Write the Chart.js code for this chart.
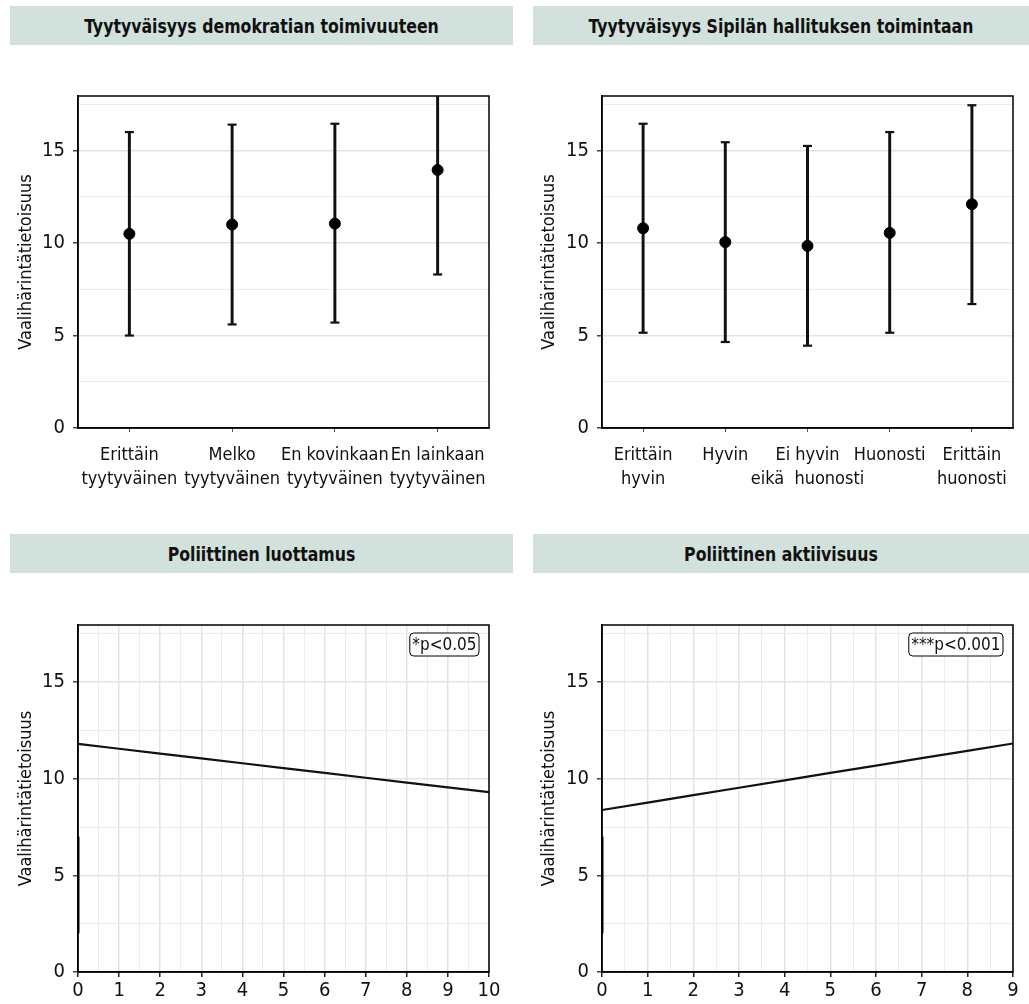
<!DOCTYPE html>
<html>
<head>
<meta charset="utf-8">
<script src="https://cdn.jsdelivr.net/npm/chart.js@4.4.1/dist/chart.umd.min.js"></script>
<style>
    body { margin: 0; background: #fff; }
    .page { position: relative; width: 1029px; height: 1004px; overflow: hidden; }
    .banner {
        position: absolute;
        height: 39px;
        display: flex;
        align-items: center;
        justify-content: center;
        background: #d2e1dc;
        color: #111;
        font: bold 17.5px "Liberation Sans Narrow", "DejaVu Sans Condensed", sans-serif;
    }
    .banner span { display: inline-block; transform: scaleY(1.15); }
    canvas { position: absolute; }
</style>
</head>
<body>
<div class="page">
    <div class="banner" style="left:10px; top:6px; width:503px;"><span>Tyytyväisyys demokratian toimivuuteen</span></div>
    <div class="banner" style="left:533px; top:6px; width:496px;"><span>Tyytyväisyys Sipilän hallituksen toimintaan</span></div>
    <div class="banner" style="left:10px; top:534px; width:503px;"><span>Poliittinen luottamus</span></div>
    <div class="banner" style="left:533px; top:534px; width:496px;"><span>Poliittinen aktiivisuus</span></div>

    <canvas id="c1" style="left:0; top:50px;" width="515" height="450"></canvas>
    <canvas id="c2" style="left:515px; top:50px;" width="514" height="450"></canvas>
    <canvas id="c3" style="left:0; top:580px;" width="515" height="424"></canvas>
    <canvas id="c4" style="left:515px; top:580px;" width="514" height="424"></canvas>
</div>

<script>
// data
const yTitle = 'Vaalihärintätietoisuus'
const yMax = 17.95
const yTicks = [0, 2.5, 5, 7.5, 10, 12.5, 15, 17.5]

const demoLabels = [['Erittäin', 'tyytyväinen'], ['Melko', 'tyytyväinen'], ['En kovinkaan', 'tyytyväinen'], ['En lainkaan', 'tyytyväinen']]
const demoMean = [10.5, 11.0, 11.05, 13.95]
const demoLow = [5.0, 5.6, 5.7, 8.3]
const demoHigh = [16.0, 16.4, 16.45, 19.6]

const hallLabels = [['Erittäin', 'hyvin'], ['Hyvin', ''], ['Ei hyvin', 'eikä  huonosti'], ['Huonosti', ''], ['Erittäin', 'huonosti']]
const hallMean = [10.8, 10.05, 9.85, 10.55, 12.1]
const hallLow = [5.15, 4.65, 4.45, 5.15, 6.7]
const hallHigh = [16.45, 15.45, 15.25, 16.0, 17.45]

const luotX = [0, 1, 2, 3, 4, 5, 6, 7, 8, 9, 10]
const luotY = [11.8, 11.55, 11.3, 11.05, 10.8, 10.55, 10.3, 10.05, 9.8, 9.55, 9.3]
const luotTicks = [0, 0.5, 1, 1.5, 2, 2.5, 3, 3.5, 4, 4.5, 5, 5.5, 6, 6.5, 7, 7.5, 8, 8.5, 9, 9.5, 10]

const aktX = [0, 1, 2, 3, 4, 5, 6, 7, 8, 9]
const aktY = [8.38, 8.76, 9.15, 9.53, 9.91, 10.3, 10.68, 11.06, 11.44, 11.82]
const aktTicks = [0, 0.5, 1, 1.5, 2, 2.5, 3, 3.5, 4, 4.5, 5, 5.5, 6, 6.5, 7, 7.5, 8, 8.5, 9]

// segment on the left axis in the lower panels
const rugY = [2, 7]

const FONT = '"Liberation Sans Narrow", "DejaVu Sans Condensed", sans-serif'

Chart.defaults.font.family = FONT
Chart.defaults.color = '#111'
Chart.defaults.animation = false

// frame round the plot + p-value box
const framePlugin = {
    id: 'frame',
    afterDatasetsDraw(chart, args, opts) {
        const { ctx, chartArea: a } = chart
        ctx.save()
        ctx.strokeStyle = '#000'
        ctx.lineWidth = 1.5
        ctx.strokeRect(a.left, a.top, a.right - a.left, a.bottom - a.top)
        if (opts.note) {
            ctx.font = '17px ' + FONT
            const w = ctx.measureText(opts.note).width + 5
            const h = 23
            const x = a.right - 10 - w
            const y = a.top + 8
            ctx.fillStyle = '#fff'
            ctx.beginPath()
            ctx.roundRect(x, y, w, h, 4)
            ctx.fill()
            ctx.lineWidth = 1
            ctx.stroke()
            ctx.fillStyle = '#111'
            ctx.textBaseline = 'middle'
            ctx.fillText(opts.note, x + 2.5, y + h / 2 + 1)
        }
        ctx.restore()
    }
}

function yScale(width, titlePad) {
    return {
        min: 0,
        max: yMax,
        afterFit: (s) => { s.width = width },
        afterBuildTicks: (s) => { s.ticks = yTicks.map(v => ({ value: v })) },
        ticks: {
            padding: 8,
            font: { size: 20 },
            callback: (v) => v % 5 === 0 ? v : ''
        },
        grid: {
            color: (c) => c.tick && c.tick.value % 5 === 0 ? '#e3e3e3' : '#ececec',
            lineWidth: (c) => c.tick && c.tick.value % 5 === 0 ? 1.5 : 1,
            tickColor: (c) => c.tick && c.tick.value % 5 === 0 ? '#444' : 'rgba(0,0,0,0)',
            tickLength: 5
        },
        border: { color: '#000', width: 1.5 },
        title: {
            display: true,
            text: yTitle,
            font: { size: 18 },
            padding: { top: titlePad, bottom: 0 }
        }
    }
}

function errorChart(id, labels, mean, low, high, yWidth, titlePad, padRight) {
    new Chart(document.getElementById(id), {
        type: 'bar',
        plugins: [framePlugin],
        data: {
            labels: labels,
            datasets: [
                {
                    type: 'line',
                    data: mean,
                    showLine: false,
                    pointRadius: 5.5,
                    pointBackgroundColor: '#000',
                    pointBorderColor: '#000',
                    clip: 0
                },
                {
                    type: 'line',
                    data: low,
                    showLine: false,
                    pointStyle: 'line',
                    pointRadius: 4.5,
                    pointBorderWidth: 2.2,
                    pointBorderColor: '#111',
                    clip: 0
                },
                {
                    type: 'line',
                    data: high,
                    showLine: false,
                    pointStyle: 'line',
                    pointRadius: 4.5,
                    pointBorderWidth: 2.2,
                    pointBorderColor: '#111',
                    clip: 0
                },
                {
                    data: low.map((v, i) => [v, high[i]]),
                    backgroundColor: '#111',
                    barThickness: 2.3,
                    clip: 0
                }
            ]
        },
        options: {
            responsive: false,
            layout: { padding: { top: 46, right: padRight, left: 0, bottom: 0 } },
            plugins: { legend: { display: false }, tooltip: { enabled: false } },
            scales: {
                x: {
                    afterFit: (s) => { s.height = 72 },
                    ticks: { padding: 12, font: { size: 18, lineHeight: 1.3 }, maxRotation: 0, autoSkip: false },
                    grid: { offset: false, drawOnChartArea: false, tickColor: '#555', tickLength: 4 },
                    border: { color: '#000', width: 1.5 }
                },
                y: yScale(yWidth, titlePad)
            }
        }
    })
}

function lineChart(id, xs, ys, xTicks, note, yWidth, titlePad, padRight) {
    const xMax = xs[xs.length - 1]
    new Chart(document.getElementById(id), {
        type: 'scatter',
        plugins: [framePlugin],
        data: {
            datasets: [
                {
                    data: xs.map((x, i) => ({ x: x, y: ys[i] })),
                    showLine: true,
                    borderColor: '#111',
                    borderWidth: 2.2,
                    pointRadius: 0
                },
                {
                    data: rugY.map(y => ({ x: 0, y: y })),
                    showLine: true,
                    borderColor: '#000',
                    borderWidth: 3,
                    pointRadius: 0
                }
            ]
        },
        options: {
            responsive: false,
            layout: { padding: { top: 45, right: padRight, left: 0, bottom: 0 } },
            plugins: { legend: { display: false }, tooltip: { enabled: false }, frame: { note: note } },
            scales: {
                x: {
                    min: 0,
                    max: xMax,
                    afterFit: (s) => { s.height = 32 },
                    afterBuildTicks: (s) => { s.ticks = xTicks.map(v => ({ value: v })) },
                    ticks: {
                        padding: 2,
                        font: { size: 20 },
                        maxRotation: 0,
                        autoSkip: false,
                        callback: (v) => Number.isInteger(v) ? v : ''
                    },
                    grid: {
                        color: (c) => c.tick && Number.isInteger(c.tick.value) ? '#e3e3e3' : '#ececec',
                        lineWidth: (c) => c.tick && Number.isInteger(c.tick.value) ? 1.5 : 1,
                        tickColor: (c) => c.tick && Number.isInteger(c.tick.value) ? '#222' : 'rgba(0,0,0,0)',
                        tickLength: 5
                    },
                    border: { color: '#000', width: 1.5 }
                },
                y: yScale(yWidth, titlePad)
            }
        }
    })
}

errorChart('c1', demoLabels, demoMean, demoLow, demoHigh, 78, 16, 26)
errorChart('c2', hallLabels, hallMean, hallLow, hallHigh, 87, 24, 16)
lineChart('c3', luotX, luotY, luotTicks, '*p<0.05', 78, 16, 26)
lineChart('c4', aktX, aktY, aktTicks, '***p<0.001', 87, 24, 16)
</script>
</body>
</html>
